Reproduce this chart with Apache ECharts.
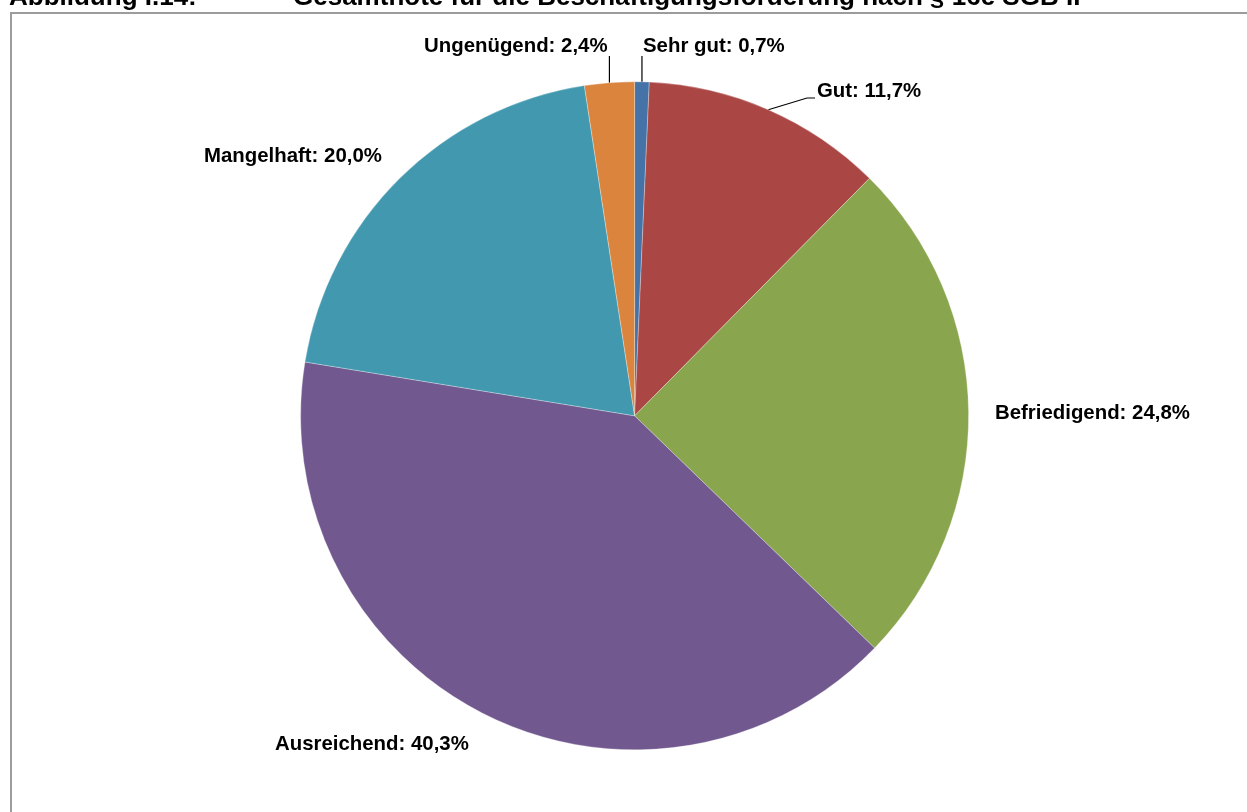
<!DOCTYPE html>
<html>
<head>
<meta charset="utf-8">
<script src="https://cdn.jsdelivr.net/npm/echarts@6/dist/echarts.min.js"></script>
<style>
  html, body { margin: 0; padding: 0; background: #fff; }
  #chart { width: 1247px; height: 812px; }
</style>
</head>
<body>
<div id="chart"></div>
<script>
// ---- data ----
const categories = ['Sehr gut', 'Gut', 'Befriedigend', 'Ausreichend', 'Mangelhaft', 'Ungenügend'];
const shares = [0.7, 11.7, 24.8, 40.3, 20.0, 2.4];
const colors = ['#4572A7', '#AA4643', '#89A54E', '#71588F', '#4198AF', '#DB843D'];
const titleLeft = 'Abbildung I.14:';
const titleMain = 'Gesamtnote für die Beschäftigungsförderung nach § 16e SGB II';

// ---- label placement (annotation layout, not data) ----
const labelPlace = [
  { x: 643, y: 46, line: 'up' },
  { x: 817, y: 91, line: 'elbow' },
  { x: 995, y: 413, line: null },
  { x: 275, y: 744, line: null },
  { x: 204, y: 156, line: null },
  { x: 424, y: 46, line: 'up' }
];

const fmt = v => v.toFixed(1).replace('.', ',') + '%';
const font = "'Liberation Sans', Arial, sans-serif";

const chart = echarts.init(document.getElementById('chart'), null, { renderer: 'canvas' });
chart.setOption({
  animation: false,
  backgroundColor: '#fff',
  graphic: [
    { type: 'rect', shape: { x: 11, y: 13, width: 1300, height: 900 },
      style: { fill: 'none', stroke: '#9c9c9c', lineWidth: 2 }, z: 0 },
    { type: 'text', x: 9, y: 11, style: { text: titleLeft, font: "bold 26px 'Liberation Sans', Arial", fill: '#000', verticalAlign: 'bottom' }, z: 10 },
    { type: 'text', x: 293, y: 11, style: { text: titleMain, font: "bold 26px 'Liberation Sans', Arial", fill: '#000', verticalAlign: 'bottom' }, z: 10 }
  ],
  series: [{
    type: 'pie',
    center: [634.6, 415.8],
    radius: 334,
    startAngle: 90,
    clockwise: true,
    avoidLabelOverlap: false,
    itemStyle: { borderColor: 'rgba(255,255,255,0.5)', borderWidth: 0.6 },
    emphasis: { disabled: true },
    label: {
      show: true,
      position: 'outside',
      formatter: p => p.name + ': ' + fmt(p.value),
      fontFamily: font,
      fontWeight: 'bold',
      fontSize: 20.4,
      color: '#000'
    },
    labelLine: { show: true, lineStyle: { color: '#000', width: 1.2 } },
    labelLayout: function (params) {
      const pl = labelPlace[params.dataIndex];
      const out = { x: pl.x, y: pl.y, align: 'left', verticalAlign: 'middle' };
      const pts = params.labelLinePoints;
      if (pts && pts.length) {
        const s = pts[0];
        if (pl.line === 'up') {
          out.labelLinePoints = [[s[0], s[1]], [s[0], pl.y + 10], [s[0], pl.y + 10]];
        } else if (pl.line === 'elbow') {
          out.labelLinePoints = [[s[0], s[1]], [pl.x - 10, pl.y + 7], [pl.x - 2, pl.y + 7]];
        }
      }
      return out;
    },
    data: categories.map((c, i) => ({
      name: c,
      value: shares[i],
      itemStyle: { color: colors[i] },
      labelLine: { show: labelPlace[i].line !== null }
    }))
  }]
});
</script>
</body>
</html>
